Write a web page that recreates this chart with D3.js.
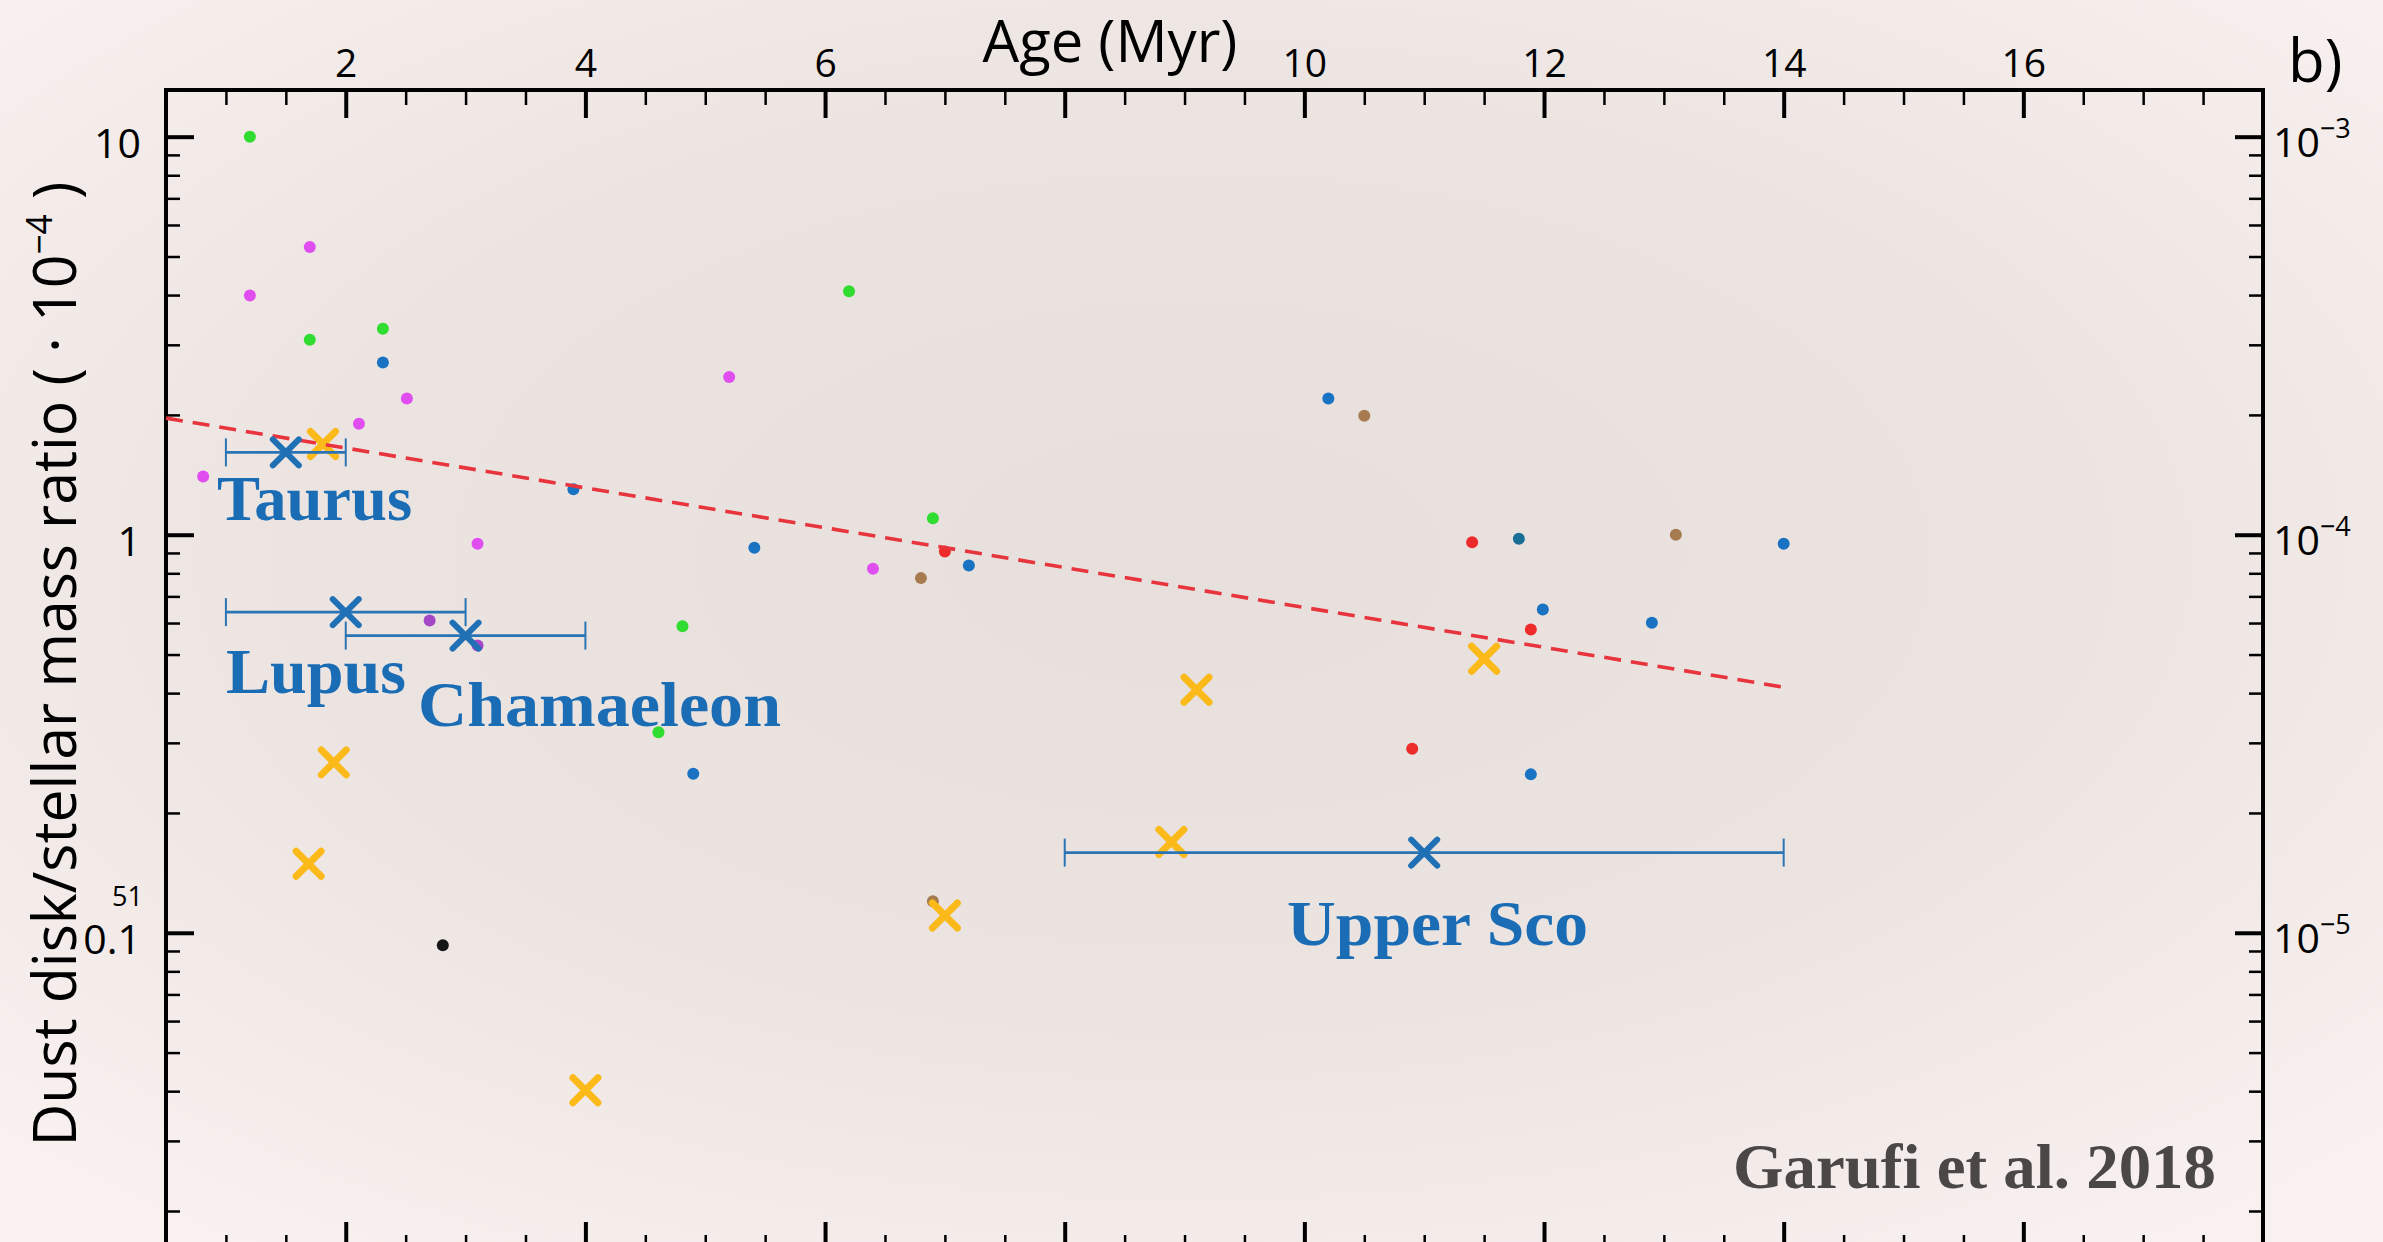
<!DOCTYPE html>
<html><head><meta charset="utf-8">
<script src="https://cdn.jsdelivr.net/npm/d3@7"></script>
<style>html,body{margin:0;padding:0;overflow:hidden;background:#f3ebe9}</style>
</head><body>
<svg id="chart" width="2383" height="1242"></svg>
<script>
// ---------------- DATA ----------------
const xMajorTicks = [2, 4, 6, 8, 10, 12, 14, 16];
const xTickLabels = ["2", "4", "6", "", "10", "12", "14", "16"];
const yMajorTicks = [0.1, 1, 10];
const yTickLabels = ["0.1", "1", "10"];
const rightTickExponents = ["−5", "−4", "−3"];

const greenAge   = [1.20, 1.70, 2.31, 6.20, 6.90, 4.81, 4.61];
const greenRatio = [10.0, 3.09, 3.29, 4.09, 1.10, 0.589, 0.319];
const magentaAge   = [1.20, 1.70, 2.51, 2.11, 0.81, 3.10, 5.20, 6.40];
const magentaRatio = [3.99, 5.28, 2.20, 1.90, 1.40, 0.949, 2.49, 0.821];
const purpleAge   = [2.70, 3.10];
const purpleRatio = [0.609, 0.527];
const blueAge   = [2.31, 3.90, 5.41, 4.90, 7.20, 10.20, 11.99, 11.89, 12.90, 14.00];
const blueRatio = [2.71, 1.30, 0.927, 0.251, 0.837, 2.20, 0.649, 0.250, 0.601, 0.949];
const tealAge   = [11.79];
const tealRatio = [0.977];
const redAge   = [7.00, 11.40, 11.89, 10.90];
const redRatio = [0.908, 0.958, 0.578, 0.290];
const brownAge   = [10.50, 13.10, 6.80, 6.90];
const brownRatio = [1.99, 1.00, 0.778, 0.120];
const blackAge   = [2.81];
const blackRatio = [0.093];

const crossAge   = [1.81, 1.90, 1.69, 4.00, 7.00, 8.89, 9.10, 11.50];
const crossRatio = [1.69, 0.268, 0.149, 0.0402, 0.1105, 0.169, 0.408, 0.488];

const regionNames  = ["Taurus", "Lupus", "Chamaeleon", "Upper Sco"];
const regionAge    = [1.5, 2.0, 3.0, 11.0];
const regionAgeMin = [1.0, 1.0, 2.0, 8.0];
const regionAgeMax = [2.0, 3.0, 4.0, 14.0];
const regionRatio  = [1.61, 0.639, 0.558, 0.159];

const fitAge   = [0.5, 14.0];
const fitRatio = [1.963, 0.414];

// ---------------- STYLE / LAYOUT ----------------
const W = 2383, H = 1242;
const L = 166, R = 2263, T = 90, B = 1250;
const seriesColors = {
  green: "#2fdc2f", magenta: "#e14ef0", purple: "#a548c8", blue: "#1a72c2",
  teal: "#186f96", red: "#ee2b2b", brown: "#a67b50", black: "#151515"
};
const series = [
  ["green", greenAge, greenRatio], ["magenta", magentaAge, magentaRatio],
  ["purple", purpleAge, purpleRatio], ["blue", blueAge, blueRatio],
  ["teal", tealAge, tealRatio], ["red", redAge, redRatio],
  ["brown", brownAge, brownRatio], ["black", blackAge, blackRatio]
];
// label anchor (start x, baseline y) and width in pixels
const labelLayout = [[217, 520, 195], [226, 693, 180], [418, 726, 363], [1287, 945, 301]];

const svg = d3.select("#chart");
const defs = svg.append("defs");
const grad = defs.append("radialGradient").attr("id", "bg")
  .attr("cx", "50%").attr("cy", "45%").attr("r", "68%");
grad.append("stop").attr("offset", "0%").attr("stop-color", "#e6dfdc");
grad.append("stop").attr("offset", "55%").attr("stop-color", "#ebe4e1");
grad.append("stop").attr("offset", "100%").attr("stop-color", "#f8f1ef");
svg.append("rect").attr("width", W).attr("height", H).attr("fill", "url(#bg)");

const x = d3.scaleLinear().domain([0.5, 18]).range([L, R]);
const y = d3.scaleLog().domain([0.01596, 13.1]).range([B, T]);

const sansFont = "'Open Sans', 'Noto Sans', sans-serif";
const serifFont = "'Liberation Serif', 'DejaVu Serif', serif";

// ---- axes ----
const xMinor = d3.range(1, 17.6, 0.5).filter(v => v % 2 !== 0);
const yMinor = y.ticks().filter(v => !yMajorTicks.some(m => Math.abs(m - v) < 1e-9));

function styleAxis(g, w) {
  g.select(".domain").remove();
  g.selectAll(".tick line").attr("stroke", "#000").attr("stroke-width", w);
}
// top
svg.append("g").attr("transform", `translate(0,${T})`)
  .call(d3.axisTop(x).tickValues(xMajorTicks).tickSize(-28).tickSizeOuter(0).tickPadding(13)
    .tickFormat((d, i) => xTickLabels[i]))
  .call(g => styleAxis(g, 4))
  .call(g => g.selectAll("text").attr("font-family", sansFont).attr("font-size", 39).attr("fill", "#000"));
svg.append("g").attr("transform", `translate(0,${T})`)
  .call(d3.axisTop(x).tickValues(xMinor).tickSize(-15).tickSizeOuter(0).tickFormat(""))
  .call(g => styleAxis(g, 2.5));
// bottom
svg.append("g").attr("transform", `translate(0,${B})`)
  .call(d3.axisBottom(x).tickValues(xMajorTicks).tickSize(-28).tickSizeOuter(0).tickFormat(""))
  .call(g => styleAxis(g, 4));
svg.append("g").attr("transform", `translate(0,${B})`)
  .call(d3.axisBottom(x).tickValues(xMinor).tickSize(-15).tickSizeOuter(0).tickFormat(""))
  .call(g => styleAxis(g, 2.5));
// left
svg.append("g").attr("transform", `translate(${L},0)`)
  .call(d3.axisLeft(y).tickValues(yMajorTicks).tickSize(-28).tickSizeOuter(0).tickPadding(25)
    .tickFormat((d, i) => yTickLabels[i]))
  .call(g => styleAxis(g, 4))
  .call(g => g.selectAll("text").attr("font-family", sansFont).attr("font-size", 41)
    .attr("fill", "#000").attr("dy", "0.5em"));
svg.append("g").attr("transform", `translate(${L},0)`)
  .call(d3.axisLeft(y).tickValues(yMinor).tickSize(-14).tickSizeOuter(0).tickFormat(""))
  .call(g => styleAxis(g, 2.5));
// right
svg.append("g").attr("transform", `translate(${R},0)`)
  .call(d3.axisRight(y).tickValues(yMajorTicks).tickSize(-28).tickSizeOuter(0).tickFormat(""))
  .call(g => styleAxis(g, 4));
svg.append("g").attr("transform", `translate(${R},0)`)
  .call(d3.axisRight(y).tickValues(yMinor).tickSize(-14).tickSizeOuter(0).tickFormat(""))
  .call(g => styleAxis(g, 2.5));
const rl = svg.append("g").selectAll("text").data(yMajorTicks).join("text")
  .attr("x", R + 10).attr("y", d => y(d) + 20)
  .attr("font-family", sansFont).attr("font-size", 41).attr("fill", "#000");
rl.append("tspan").text("10");
rl.append("tspan").attr("font-size", 27).attr("dy", -19).text((d, i) => rightTickExponents[i]);

// frame
svg.append("rect").attr("x", L).attr("y", T).attr("width", R - L).attr("height", B - T)
  .attr("fill", "none").attr("stroke", "#000").attr("stroke-width", 4);

// stray small label near 0.1
svg.append("text").attr("x", 143).attr("y", 906).attr("text-anchor", "end")
  .attr("font-family", sansFont).attr("font-size", 27).attr("fill", "#000").text("51");

// titles
svg.append("text").attr("x", 1110).attr("y", 62).attr("text-anchor", "middle")
  .attr("font-family", sansFont).attr("font-size", 58).attr("fill", "#000").text("Age (Myr)");
svg.append("text").attr("x", 2288).attr("y", 82)
  .attr("font-family", sansFont).attr("font-size", 60).attr("fill", "#000").text("b)");
const yt = svg.append("text").attr("transform", "translate(76,664) rotate(-90)")
  .attr("text-anchor", "middle").attr("font-family", sansFont).attr("font-size", 60)
  .attr("fill", "#000").attr("textLength", 965).attr("lengthAdjust", "spacingAndGlyphs");
yt.append("tspan").text("Dust disk/stellar mass ratio ( · 10");
yt.append("tspan").attr("font-size", 36).attr("dy", -24).text("−4");
yt.append("tspan").attr("dy", 24).text(" )");

// ---- marks ----
const dots = series.flatMap(([c, a, r]) => a.map((v, i) => ({c, age: v, ratio: r[i]})));
svg.append("g").selectAll("circle").data(dots).join("circle")
  .attr("cx", d => x(d.age)).attr("cy", d => y(d.ratio)).attr("r", 6)
  .attr("fill", d => seriesColors[d.c]);

const xPath = s => `M${-s},${-s}L${s},${s}M${-s},${s}L${s},${-s}`;
svg.append("g").selectAll("path").data(crossAge.map((a, i) => [a, crossRatio[i]])).join("path")
  .attr("transform", d => `translate(${x(d[0])},${y(d[1])})`)
  .attr("d", xPath(12.5)).attr("stroke", "#fbba1a").attr("stroke-width", 7)
  .attr("stroke-linecap", "round").attr("fill", "none");

// fit line
svg.append("path").datum(fitAge.map((a, i) => [a, fitRatio[i]]))
  .attr("d", d3.line().x(d => x(d[0])).y(d => y(d[1])))
  .attr("stroke", "#e8343c").attr("stroke-width", 3.6).attr("stroke-dasharray", "17,10")
  .attr("fill", "none");

// regions
const reg = regionNames.map((n, i) => ({n, a: regionAge[i], lo: regionAgeMin[i], hi: regionAgeMax[i], r: regionRatio[i], lay: labelLayout[i]}));
const rg = svg.append("g");
rg.selectAll("line.bar").data(reg).join("line").attr("class", "bar")
  .attr("x1", d => x(d.lo)).attr("x2", d => x(d.hi)).attr("y1", d => y(d.r)).attr("y2", d => y(d.r))
  .attr("stroke", "#2a74b5").attr("stroke-width", 2.6);
["lo", "hi"].forEach(k => {
  rg.selectAll("line.cap" + k).data(reg).join("line").attr("class", "cap" + k)
    .attr("x1", d => x(d[k])).attr("x2", d => x(d[k]))
    .attr("y1", d => y(d.r) - 14).attr("y2", d => y(d.r) + 14)
    .attr("stroke", "#2a74b5").attr("stroke-width", 2);
});
rg.selectAll("path").data(reg).join("path")
  .attr("transform", d => `translate(${x(d.a)},${y(d.r)})`)
  .attr("d", xPath(13)).attr("stroke", "#1f70b5").attr("stroke-width", 6)
  .attr("stroke-linecap", "round").attr("fill", "none");
rg.selectAll("text").data(reg).join("text")
  .attr("x", d => d.lay[0]).attr("y", d => d.lay[1])
  .attr("textLength", d => d.lay[2]).attr("lengthAdjust", "spacingAndGlyphs")
  .attr("font-family", serifFont).attr("font-weight", "bold").attr("font-size", 64)
  .attr("fill", "#1a6cb5").text(d => d.n);

svg.append("text").attr("x", 1733).attr("y", 1188).attr("textLength", 483)
  .attr("lengthAdjust", "spacingAndGlyphs")
  .attr("font-family", serifFont).attr("font-weight", "bold").attr("font-size", 64)
  .attr("fill", "#4a4746").text("Garufi et al. 2018");
</script>
</body></html>
